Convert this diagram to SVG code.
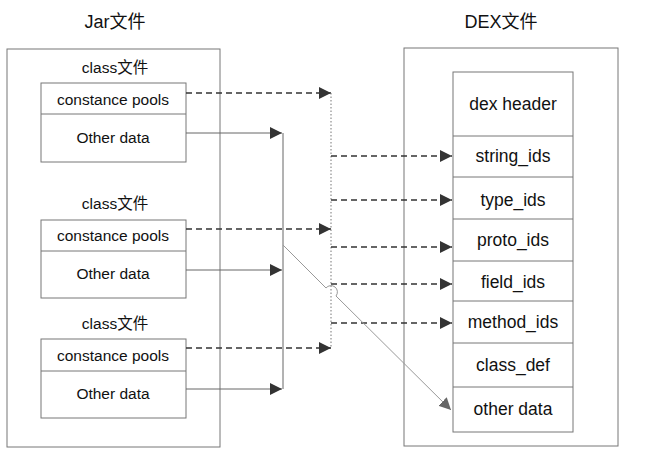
<svg xmlns="http://www.w3.org/2000/svg" width="647" height="465" viewBox="0 0 647 465">
<defs>
<style>
text{font-family:"Liberation Sans",Arial,sans-serif;fill:#111;text-anchor:middle;dominant-baseline:central}
.title{font-size:18px;font-family:"Liberation Sans","Noto Sans CJK SC",sans-serif}
.cls{font-size:15.5px;font-family:"Liberation Sans","Noto Sans CJK SC",sans-serif}
.l{font-size:15.5px}
.r{font-size:17.5px}
.box{fill:#fff;stroke:#777;stroke-width:1}
.div{stroke:#777;stroke-width:1}
.dash{fill:none;stroke:#333;stroke-width:1.6;stroke-dasharray:6,4}
.solid{fill:none;stroke:#666;stroke-width:1}
.dot{fill:none;stroke:#777;stroke-width:1;stroke-dasharray:1.5,2}
.gray{fill:none;stroke:#999;stroke-width:1}
</style>
<marker id="ah" viewBox="0 0 10 10" refX="10" refY="5" markerWidth="13" markerHeight="12" markerUnits="userSpaceOnUse" orient="auto"><path d="M0,0 L10,5 L0,10 z" fill="#333"/></marker>
<marker id="ahg" viewBox="0 0 10 10" refX="10" refY="5" markerWidth="12" markerHeight="12" markerUnits="userSpaceOnUse" orient="auto"><path d="M0,0 L10,5 L0,10 z" fill="#666"/></marker>
</defs>
<rect width="647" height="465" fill="#fff"/>

<g id="jar">
<text class="title" x="115" y="22">Jar文件</text>
<rect class="box" x="7" y="49" width="213" height="398"/>
</g>
<g id="class1">
<text class="cls" x="115" y="67">class文件</text>
<rect class="box" x="41" y="83" width="145" height="79"/>
<line class="div" x1="41" y1="114" x2="186" y2="114"/>
<text class="l" x="113" y="99">constance pools</text>
<text class="l" x="113" y="137">Other data</text>
</g>
<g id="class2">
<text class="cls" x="115" y="203">class文件</text>
<rect class="box" x="41" y="220" width="145" height="78"/>
<line class="div" x1="41" y1="251" x2="186" y2="251"/>
<text class="l" x="113" y="235">constance pools</text>
<text class="l" x="113" y="273">Other data</text>
</g>
<g id="class3">
<text class="cls" x="115" y="323">class文件</text>
<rect class="box" x="41" y="339" width="145" height="79"/>
<line class="div" x1="41" y1="371" x2="186" y2="371"/>
<text class="l" x="113" y="355">constance pools</text>
<text class="l" x="113" y="393">Other data</text>
</g>

<g id="dex">
<text class="title" x="501" y="22">DEX文件</text>
<rect class="box" x="404" y="48" width="214" height="398"/>
<rect class="box" x="453" y="72" width="120" height="360"/>
<line class="div" x1="453" y1="136" x2="573" y2="136"/>
<line class="div" x1="453" y1="177" x2="573" y2="177"/>
<line class="div" x1="453" y1="219" x2="573" y2="219"/>
<line class="div" x1="453" y1="261" x2="573" y2="261"/>
<line class="div" x1="453" y1="301" x2="573" y2="301"/>
<line class="div" x1="453" y1="343" x2="573" y2="343"/>
<line class="div" x1="453" y1="387" x2="573" y2="387"/>
<text class="r" x="513" y="104">dex header</text>
<text class="r" x="513" y="156">string_ids</text>
<text class="r" x="513" y="200">type_ids</text>
<text class="r" x="513" y="240">proto_ids</text>
<text class="r" x="513" y="282">field_ids</text>
<text class="r" x="513" y="322">method_ids</text>
<text class="r" x="513" y="365">class_def</text>
<text class="r" x="513" y="409">other data</text>
</g>

<g id="connectors">
<path class="dash" d="M186,93 H331" marker-end="url(#ah)"/>
<path class="dash" d="M186,229 H331" marker-end="url(#ah)"/>
<path class="dash" d="M186,348 H331" marker-end="url(#ah)"/>
<path class="solid" d="M186,133 H282" marker-end="url(#ah)"/>
<path class="solid" d="M186,270 H282" marker-end="url(#ah)"/>
<path class="solid" d="M186,389 H282" marker-end="url(#ah)"/>
<line class="solid" x1="283" y1="133" x2="283" y2="389"/>
<line class="dot" x1="331" y1="93" x2="331" y2="348"/>
<path class="dash" d="M331,156 H452" marker-end="url(#ah)"/>
<path class="dash" d="M331,200 H452" marker-end="url(#ah)"/>
<path class="dash" d="M331,247 H452" marker-end="url(#ah)"/>
<path class="dash" d="M331,284 H452" marker-end="url(#ah)"/>
<path class="dash" d="M331,323 H452" marker-end="url(#ah)"/>
<path class="gray" d="M283,245 L326,288 A5,5 0 0 1 336,296 L451,410" marker-end="url(#ahg)"/>
</g>
</svg>
